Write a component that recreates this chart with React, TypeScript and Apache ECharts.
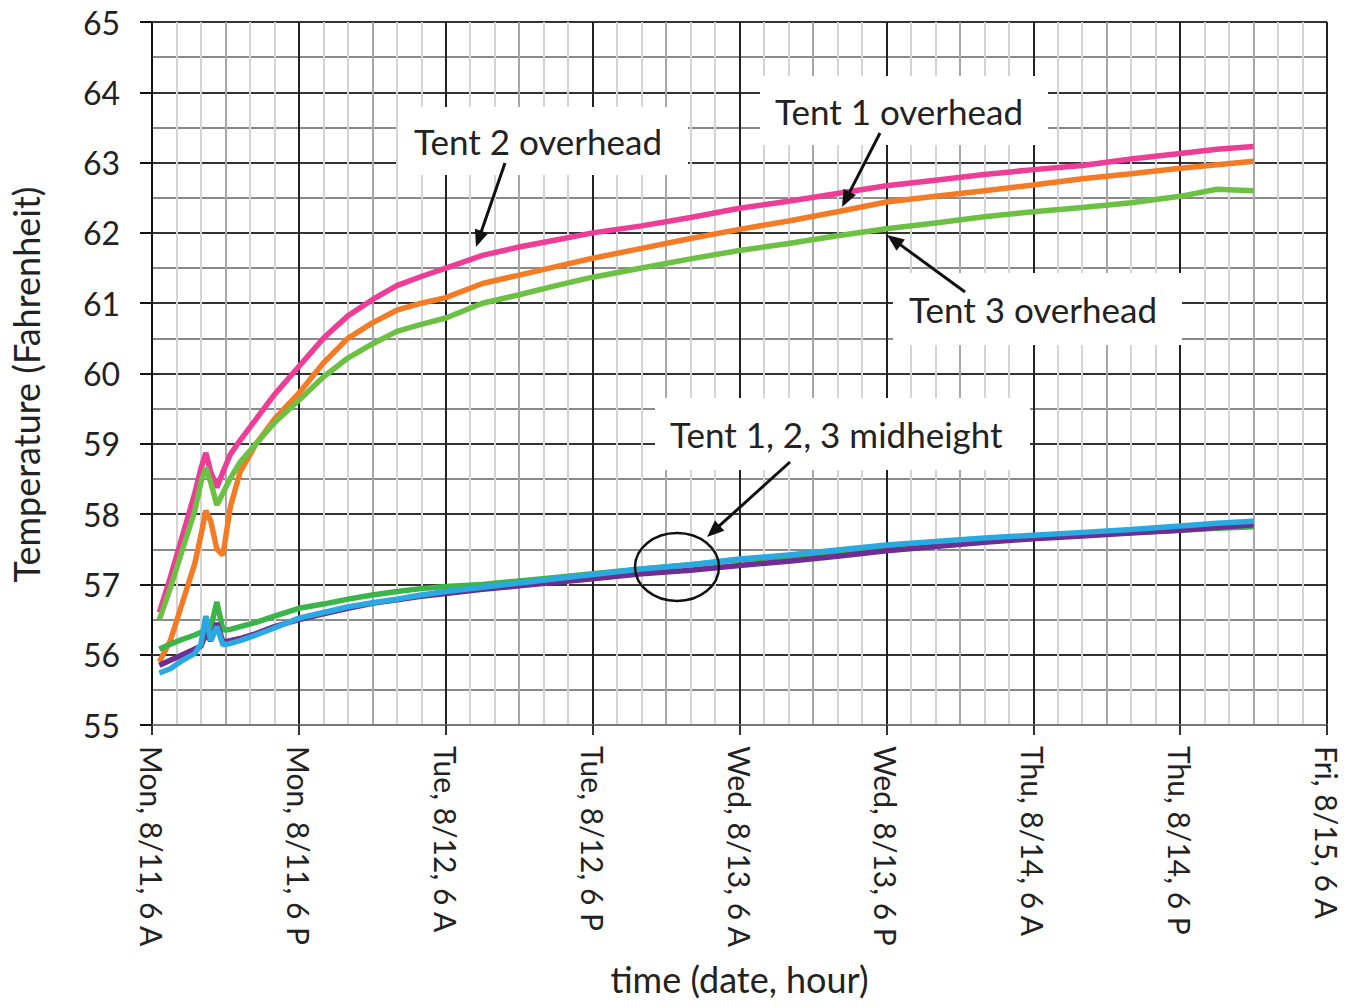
import React, { useEffect, useRef } from "react";
import * as echarts from "echarts";

// hours since Mon 8/11, 6 A
const hours = [0.6, 1.5, 2.5, 3.5, 4.0, 4.4, 4.8, 5.3, 5.8, 6.4, 7.2, 8.5, 10, 12, 14, 16, 18, 20, 22, 24, 27, 30, 33, 36, 40, 44, 48, 52, 56, 60, 64, 68, 72, 76, 80, 84, 87, 90];

const tent2Overhead = [56.6, 57.1, 57.7, 58.3, 58.65, 58.87, 58.6, 58.38, 58.6, 58.85, 59.05, 59.35, 59.7, 60.1, 60.5, 60.82, 61.05, 61.25, 61.38, 61.5, 61.68, 61.8, 61.9, 62.0, 62.1, 62.22, 62.35, 62.45, 62.56, 62.67, 62.75, 62.83, 62.9, 62.96, 63.05, 63.13, 63.19, 63.23];
const tent1Overhead = [55.9, 56.2, 56.75, 57.3, 57.7, 58.05, 57.9, 57.5, 57.42, 58.1, 58.6, 59.0, 59.35, 59.72, 60.15, 60.5, 60.72, 60.9, 61.0, 61.08, 61.28, 61.4, 61.52, 61.64, 61.78, 61.92, 62.05, 62.17, 62.3, 62.44, 62.52, 62.6, 62.68, 62.77, 62.84, 62.92, 62.97, 63.02];
const tent3Overhead = [56.5, 56.95, 57.5, 58.05, 58.45, 58.66, 58.45, 58.13, 58.3, 58.51, 58.74, 59.0, 59.3, 59.62, 59.95, 60.22, 60.42, 60.6, 60.7, 60.79, 61.0, 61.12, 61.25, 61.37, 61.5, 61.63, 61.75, 61.85, 61.96, 62.06, 62.14, 62.23, 62.3, 62.36, 62.43, 62.52, 62.62, 62.6];
const tent3Mid = [56.08, 56.15, 56.22, 56.28, 56.32, 56.36, 56.38, 56.75, 56.35, 56.36, 56.4, 56.46, 56.55, 56.66, 56.72, 56.79, 56.85, 56.9, 56.94, 56.97, 57.0, 57.05, 57.1, 57.15, 57.22, 57.28, 57.35, 57.4, 57.47, 57.53, 57.58, 57.63, 57.67, 57.7, 57.74, 57.77, 57.8, 57.82];
const tent1Mid = [55.85, 55.92, 56.0, 56.08, 56.12, 56.3, 56.2, 56.45, 56.18, 56.2, 56.23, 56.3, 56.4, 56.5, 56.58, 56.66, 56.73, 56.78, 56.83, 56.87, 56.93, 56.98, 57.03, 57.08, 57.15, 57.2, 57.27, 57.33, 57.4, 57.48, 57.54, 57.6, 57.65, 57.69, 57.73, 57.77, 57.81, 57.85];
const tent2Mid = [55.74, 55.8, 55.92, 56.02, 56.15, 56.55, 56.2, 56.4, 56.14, 56.16, 56.2, 56.28, 56.38, 56.52, 56.6, 56.68, 56.74, 56.79, 56.85, 56.9, 56.96, 57.02, 57.08, 57.14, 57.22, 57.28, 57.36, 57.42, 57.49, 57.56, 57.61, 57.66, 57.7, 57.74, 57.78, 57.83, 57.87, 57.9];

const xTickLabels = ["Mon, 8/11, 6 A", "Mon, 8/11, 6 P", "Tue, 8/12, 6 A", "Tue, 8/12, 6 P", "Wed, 8/13, 6 A", "Wed, 8/13, 6 P", "Thu, 8/14, 6 A", "Thu, 8/14, 6 P", "Fri, 8/15, 6 A"];

const FONT = "Lato";
const TXT = "#222";

function arrow(x1: number, y1: number, x2: number, y2: number) {
  const dx = x2 - x1, dy = y2 - y1;
  const L = Math.hypot(dx, dy);
  const ux = dx / L, uy = dy / L;
  const hl = 17, hw = 7;
  const bx = x2 - ux * hl, by = y2 - uy * hl;
  return [
    { type: "line", z: 100, shape: { x1, y1, x2: bx + ux * 2, y2: by + uy * 2 }, style: { stroke: "#111", lineWidth: 3 } },
    { type: "polygon", z: 100, shape: { points: [[x2, y2], [bx - uy * hw, by + ux * hw], [bx + uy * hw, by - ux * hw]] }, style: { fill: "#111" } },
  ];
}

function label(text: string, bx: number, by: number, bw: number, bh: number, tx: number) {
  return [
    { type: "rect", z: 99, shape: { x: bx, y: by, width: bw, height: bh }, style: { fill: "#fff" } },
    { type: "text", z: 100, x: tx, y: by + bh / 2, style: { text, fill: TXT, font: `35px ${FONT}`, textVerticalAlign: "middle", verticalAlign: "middle" } },
  ];
}

export default function App() {
  const ref = useRef<HTMLDivElement>(null);
  useEffect(() => {
    if (!ref.current) return;
    const chart = echarts.init(ref.current, null, { renderer: "svg" });
    const mk = (name: string, arr: number[], color: string) => ({
      name,
      type: "line",
      data: hours.map((h, i) => [h, arr[i]]),
      showSymbol: false,
      lineStyle: { color, width: 5.5 },
      itemStyle: { color },
      xAxisIndex: 0,
    });
    chart.setOption({
      animation: false,
      backgroundColor: "#fff",
      grid: { left: 152, right: 28, top: 22, bottom: 282 },
      xAxis: [
        {
          type: "value",
          min: 0,
          max: 96,
          interval: 12,
          axisLine: { show: true, lineStyle: { color: "#777", width: 2 } },
          axisTick: { show: true, length: 10, lineStyle: { color: "#333", width: 2 } },
          axisLabel: {
            rotate: -90,
            margin: 21,
            fontFamily: FONT,
            fontSize: 30,
            color: TXT,
            formatter: (v: number) => xTickLabels[Math.round(v / 12)] ?? "",
          },
          splitLine: { show: true, lineStyle: { color: "#222", width: 2 } },
          minorTick: { show: false, splitNumber: 6 },
          minorSplitLine: { show: true, lineStyle: { color: "#d4d4d4", width: 2 } },
          name: "time (date, hour)",
          nameLocation: "middle",
          nameGap: 236,
          nameTextStyle: { fontFamily: FONT, fontSize: 36, color: TXT },
        },
        {
          type: "value",
          min: 0,
          max: 96,
          interval: 6,
          position: "top",
          axisLine: { show: false },
          axisTick: { show: false },
          axisLabel: { show: false },
          splitLine: { show: true, lineStyle: { color: ["rgba(0,0,0,0)", "#a8a8a8"], width: 2 } },
        },
      ],
      yAxis: {
        type: "value",
        min: 55,
        max: 65,
        interval: 1,
        axisLine: { show: true, lineStyle: { color: "#111", width: 2 } },
        axisTick: { show: true, length: 12, lineStyle: { color: "#111", width: 2 } },
        axisLabel: { margin: 32, fontFamily: FONT, fontSize: 32, color: TXT },
        splitLine: { show: true, lineStyle: { color: "#333", width: 2 } },
        minorTick: { show: false, splitNumber: 2 },
        minorSplitLine: { show: true, lineStyle: { color: "#8a8a8a", width: 2 } },
        name: "Temperature (Fahrenheit)",
        nameLocation: "middle",
        nameGap: 108,
        nameTextStyle: { fontFamily: FONT, fontSize: 36, color: TXT, padding: [0, 22, 0, 0] },
      },
      series: [
        mk("Tent 2 overhead", tent2Overhead, "#ec3d97"),
        mk("Tent 1 overhead", tent1Overhead, "#f47b26"),
        mk("Tent 3 overhead", tent3Overhead, "#6cc043"),
        mk("Tent 3 midheight", tent3Mid, "#3bb44a"),
        mk("Tent 1 midheight", tent1Mid, "#6f2c91"),
        mk("Tent 2 midheight", tent2Mid, "#2aa9e0"),
      ],
      graphic: [
        ...label("Tent 2 overhead", 398, 107, 290, 68, 414),
        ...label("Tent 1 overhead", 760, 76, 288, 69, 775),
        ...label("Tent 3 overhead", 893, 273, 289, 72, 909),
        ...label("Tent 1, 2, 3 midheight", 655, 398, 375, 72, 670),
        ...arrow(505, 163, 476, 247),
        ...arrow(880, 133, 842, 207),
        ...arrow(965, 292, 887, 235),
        ...arrow(790, 462, 707, 537),
        { type: "ellipse", z: 100, shape: { cx: 677, cy: 567, rx: 42, ry: 34 }, style: { fill: "none", stroke: "#111", lineWidth: 2.5 } },
      ],
    });
    return () => chart.dispose();
  }, []);
  return <div ref={ref} style={{ position: "fixed", left: 0, top: 0, width: 1355, height: 1007 }} />;
}
